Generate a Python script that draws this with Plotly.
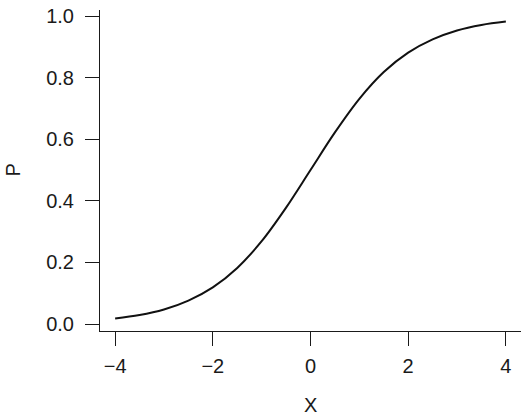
import plotly.graph_objects as go

x_vals = [-4, -3.5, -3, -2.5, -2, -1.5, -1, -0.5, 0, 0.5, 1, 1.5, 2, 2.5, 3, 3.5, 4]
p_vals = [0.018, 0.029, 0.047, 0.076, 0.119, 0.182, 0.269, 0.378, 0.5,
          0.622, 0.731, 0.818, 0.881, 0.924, 0.953, 0.971, 0.982]
x_ticks = [-4, -2, 0, 2, 4]
x_tick_labels = ["\u22124", "\u22122", "0", "2", "4"]
y_ticks = [0.0, 0.2, 0.4, 0.6, 0.8, 1.0]
y_tick_labels = ["0.0", "0.2", "0.4", "0.6", "0.8", "1.0"]

font = dict(family="Liberation Sans, Arial, sans-serif", size=20, color="#1a1a1a")

fig = go.Figure()
fig.add_trace(go.Scatter(x=x_vals, y=p_vals, mode="lines",
                         line=dict(color="#111111", width=2, shape="spline"),
                         hoverinfo="skip", showlegend=False))

fig.update_layout(
    width=525, height=415,
    margin=dict(l=100, r=4, t=10, b=84),
    paper_bgcolor="white", plot_bgcolor="white",
    font=font,
    showlegend=False,
)
fig.update_xaxes(range=[-4.31, 4.31], tickvals=x_ticks, ticktext=x_tick_labels,
                 showgrid=False, zeroline=False, showline=True, linecolor="#1a1a1a",
                 linewidth=1, ticks="outside", ticklen=14, tickwidth=1,
                 tickcolor="#1a1a1a", ticklabelstandoff=3)
fig.update_yaxes(range=[-0.0227, 1.0195], tickvals=y_ticks, ticktext=y_tick_labels,
                 showgrid=False, zeroline=False, showline=True, linecolor="#1a1a1a",
                 linewidth=1, ticks="outside", ticklen=14, tickwidth=1,
                 tickcolor="#1a1a1a", ticklabelstandoff=7)

fig.add_annotation(text="X", xref="paper", yref="paper", x=0.5, y=0,
                   xanchor="center", yanchor="middle", yshift=-74,
                   showarrow=False, font=font)
fig.add_annotation(text="P", xref="paper", yref="paper", x=0, y=0.5,
                   xanchor="center", yanchor="middle", xshift=-88,
                   textangle=-90, showarrow=False, font=font)

fig.write_html("out.html", config={"displayModeBar": False},
               post_script="document.body.style.margin='0';document.body.style.overflow='hidden';")
